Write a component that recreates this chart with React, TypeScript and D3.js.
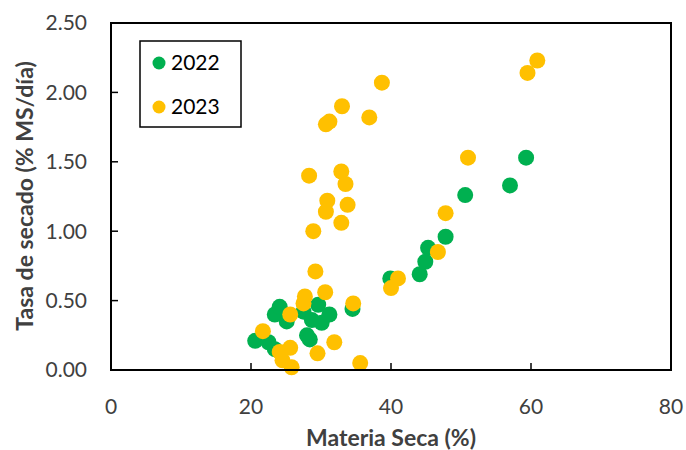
import React from "react";
import * as d3 from "d3";

const xTicks = [0, 20, 40, 60, 80];
const yTicks = [0, 0.5, 1.0, 1.5, 2.0, 2.5];

const series2022: [number, number][] = [
  [20.6, 0.21], [22.5, 0.2], [23.4, 0.15], [23.4, 0.4], [24.1, 0.455], [25.1, 0.35],
  [27.5, 0.42], [28.0, 0.25], [28.4, 0.22], [28.7, 0.36], [29.6, 0.47], [30.1, 0.34],
  [31.2, 0.4], [34.5, 0.44], [39.9, 0.66], [44.1, 0.69], [44.9, 0.78], [45.3, 0.88],
  [47.8, 0.96], [50.6, 1.26], [57.0, 1.33], [59.3, 1.53],
];

const series2023: [number, number][] = [
  [21.7, 0.28], [24.1, 0.13], [24.5, 0.07], [25.6, 0.16], [25.8, 0.02], [25.6, 0.4],
  [27.5, 0.48], [27.7, 0.53], [28.3, 1.4], [28.9, 1.0], [29.2, 0.71], [29.5, 0.12],
  [30.6, 0.56], [30.7, 1.14], [30.7, 1.77], [30.9, 1.22], [31.2, 1.79], [31.9, 0.2],
  [32.9, 1.06], [32.9, 1.43], [33.0, 1.9], [33.5, 1.34], [33.8, 1.19], [34.6, 0.48],
  [35.6, 0.05], [36.9, 1.82], [38.7, 2.07], [40.0, 0.59], [41.0, 0.66], [46.7, 0.85],
  [47.8, 1.13], [51.0, 1.53], [59.5, 2.14], [60.9, 2.23],
];

const seriesNames = ["2022", "2023"];
const colors = ["#00B050", "#FFC000"];

export default function App() {
  const W = 686, H = 450;
  const L = 111, R = 671, T = 23, B = 370;
  const x = d3.scaleLinear().domain([0, 80]).range([L, R]);
  const y = d3.scaleLinear().domain([0, 2.5]).range([B, T]);
  const font = "Lato, 'Open Sans', sans-serif";
  const textColor = "#404040";
  const all = [series2022, series2023];

  return (
    <svg width={W} height={H} style={{ position: "absolute", left: 0, top: 0 }}>
      <rect x={0} y={0} width={W} height={H} fill="#fff" />
      {xTicks.map((t) => (
        <g key={"x" + t}>
          <line x1={x(t)} x2={x(t)} y1={B} y2={B - 7} stroke="#000" strokeWidth={1.5} />
          <text x={x(t)} y={414} textAnchor="middle" fontFamily={font} fontSize={21} fill={textColor}>
            {t}
          </text>
        </g>
      ))}
      {yTicks.map((t) => (
        <g key={"y" + t}>
          <line x1={L} x2={L + 7} y1={y(t)} y2={y(t)} stroke="#000" strokeWidth={1.5} />
          <text x={87} y={y(t)} dy="0.35em" textAnchor="end" fontFamily={font} fontSize={21} fill={textColor}>
            {d3.format(".2f")(t)}
          </text>
        </g>
      ))}
      {all.map((s, i) => (
        <g key={"s" + i}>
          {s.map((d, j) => (
            <circle key={j} cx={x(d[0])} cy={y(d[1])} r={8} fill={colors[i]} />
          ))}
        </g>
      ))}
      <rect x={L} y={T} width={R - L} height={B - T} fill="none" stroke="#000" strokeWidth={2} />
      <rect x={140} y={41} width={101} height={86} fill="#fff" stroke="#000" strokeWidth={1.5} />
      {seriesNames.map((n, i) => (
        <g key={n}>
          <circle cx={159} cy={63 + i * 44} r={6.5} fill={colors[i]} />
          <text x={171} y={63 + i * 44} dy="0.35em" fontFamily={font} fontSize={21} fill="#000">
            {n}
          </text>
        </g>
      ))}
      <text x={391} y={446} textAnchor="middle" fontFamily={font} fontSize={23} fontWeight="bold" fill={textColor}>
        Materia Seca (%)
      </text>
      <text
        transform={`translate(25,196) rotate(-90)`}
        textAnchor="middle"
        dy="0.35em"
        fontFamily={font}
        fontSize={23}
        fontWeight="bold"
        fill={textColor}
      >
        Tasa de secado (% MS/día)
      </text>
    </svg>
  );
}
